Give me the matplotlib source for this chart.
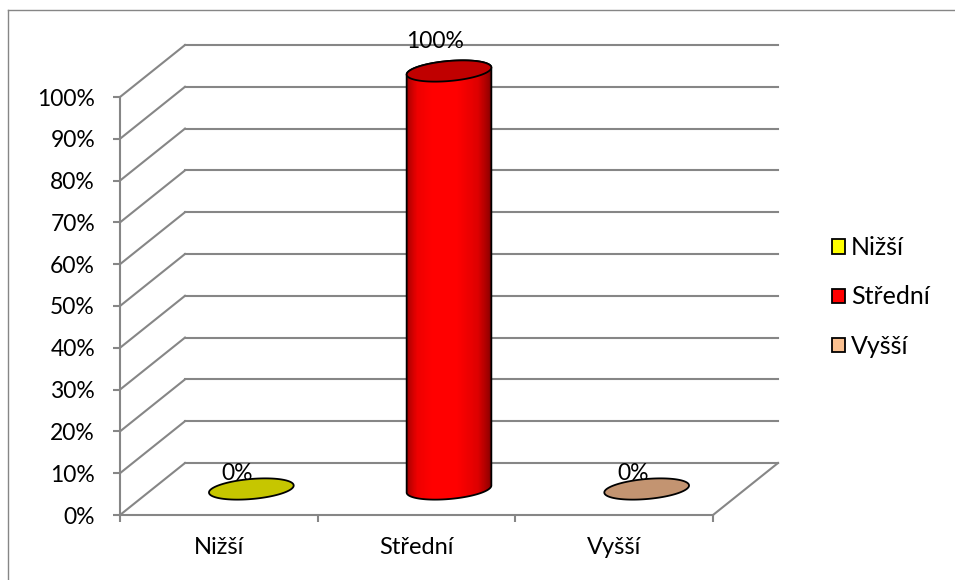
import numpy as np
import matplotlib
matplotlib.use('Agg')
import matplotlib.pyplot as plt
from matplotlib.patches import Patch, Polygon
from matplotlib.collections import PolyCollection
from matplotlib.lines import Line2D
from matplotlib.transforms import ScaledTranslation, IdentityTransform
from matplotlib.colors import LinearSegmentedColormap

# ---- data ----
categories = ['Nižší', 'Střední', 'Vyšší']
values = [0, 100, 0]
value_labels = ['0%', '100%', '0%']
y_ticks = list(range(0, 101, 10))
y_tick_labels = [f'{v}%' for v in y_ticks]
legend_colors = ['#ffff00', '#ff0000', '#fac090']
flat_colors = ['#c6c600', '#ff0000', '#c39471']

# ---- style ----
W, H, DPI = 955, 580, 100
GRID = '#868686'
DEPTH = (65, 52)            # px, oblique depth of the 3D box
ELL_W, ELL_H, ELL_ANG = 85, 20, 5
LABEL_DY = [16, 29, 16]     # px above bar top
LABEL_DX = -14
FS = 16.5
FS_CAT = 17
FS_LEG = 18

plt.rcParams['font.family'] = ['Lato', 'DejaVu Sans']
fig = plt.figure(figsize=(W / DPI, H / DPI), dpi=DPI)

# front plane of the 3D box
ax = fig.add_axes([120 / W, (H - 515) / H, (713 - 120) / W, (515 - 97) / H])
ax.set_xlim(0, 3)
ax.set_ylim(0, 100)
ax.patch.set_visible(False)
for s in ['top', 'right']:
    ax.spines[s].set_visible(False)
for s in ['left', 'bottom']:
    ax.spines[s].set_color(GRID)
    ax.spines[s].set_linewidth(1.5)

ax.set_yticks(y_ticks)
ax.set_yticklabels(y_tick_labels)
ax.tick_params(axis='y', length=5, width=1.5, color=GRID, pad=13, labelsize=FS)
ax.set_xticks([0, 1, 2, 3])
ax.set_xticklabels([])
ax.set_xticks([0.5, 1.5, 2.5], minor=True)
ax.set_xticklabels(categories, minor=True)
ax.tick_params(axis='x', which='major', length=5, width=1.5, color=GRID)
ax.tick_params(axis='x', which='minor', length=0, pad=16, labelsize=FS_CAT)

dx_in, dy_in = DEPTH[0] / DPI, DEPTH[1] / DPI
back = ax.transData + ScaledTranslation(dx_in, dy_in, fig.dpi_scale_trans)
ident = IdentityTransform()

# side wall diagonals and back wall gridlines
for v in y_ticks:
    p = ax.transData.transform((0, v))
    ax.add_line(Line2D([p[0], p[0] + DEPTH[0]], [p[1], p[1] + DEPTH[1]],
                       transform=ident, color=GRID, lw=1.5, clip_on=False, zorder=1))
    ax.plot([0, 3], [v, v], transform=back, color=GRID, lw=1.5, clip_on=False, zorder=1)
p = ax.transData.transform((3, 0))
ax.add_line(Line2D([p[0], p[0] + DEPTH[0]], [p[1], p[1] + DEPTH[1]],
                   transform=ident, color=GRID, lw=1.5, clip_on=False, zorder=1))


def ellipse_pts(cx, cy, t):
    a, b = ELL_W / 2, ELL_H / 2
    th = np.deg2rad(ELL_ANG)
    x = cx + a * np.cos(t) * np.cos(th) - b * np.sin(t) * np.sin(th)
    y = cy + a * np.cos(t) * np.sin(th) + b * np.sin(t) * np.cos(th)
    return np.column_stack([x, y])


cyl_cmap = LinearSegmentedColormap.from_list(
    'cyl', [(0, '#a80000'), (0.12, '#ee0000'), (0.3, '#ff0000'),
            (0.6, '#ff0000'), (0.85, '#dd0000'), (1, '#8a0000')])

for i, (val, col) in enumerate(zip(values, flat_colors)):
    xc = i + 0.5
    bot = ax.transData.transform((xc, 0)) + np.array(DEPTH) / 2
    top = ax.transData.transform((xc, val)) + np.array(DEPTH) / 2
    if val == 0:
        e = Polygon(ellipse_pts(top[0], top[1], np.linspace(0, 2 * np.pi, 200)),
                    closed=True, transform=ident, facecolor=col, edgecolor='black',
                    lw=1.3, clip_on=False, zorder=3)
        ax.add_patch(e)
    else:
        lower = ellipse_pts(bot[0], bot[1], np.linspace(np.pi, 2 * np.pi, 100))
        upper = ellipse_pts(top[0], top[1], np.linspace(0, np.pi, 100))
        body_pts = np.vstack([lower, upper])
        body = Polygon(body_pts, closed=True, transform=ident, facecolor='none',
                       edgecolor='black', lw=1.3, clip_on=False, zorder=4)
        x0, x1 = body_pts[:, 0].min(), body_pts[:, 0].max()
        y0, y1 = body_pts[:, 1].min(), body_pts[:, 1].max()
        n = 90
        xs = np.linspace(x0, x1, n + 1)
        strips = [[(xs[k], y0), (xs[k + 1] + 0.6, y0), (xs[k + 1] + 0.6, y1), (xs[k], y1)]
                  for k in range(n)]
        pc = PolyCollection(strips, transform=ident,
                            facecolors=[cyl_cmap(k / (n - 1)) for k in range(n)],
                            edgecolors='none', zorder=3)
        ax.add_patch(body)
        ax.add_collection(pc)
        pc.set_clip_path(body)
        pc.set_clip_box(None)
        cap = Polygon(ellipse_pts(top[0], top[1], np.linspace(0, 2 * np.pi, 200)),
                      closed=True, transform=ident, facecolor='#c00000',
                      edgecolor='black', lw=1.3, clip_on=False, zorder=5)
        ax.add_patch(cap)
    ax.text(top[0] + LABEL_DX, top[1] + LABEL_DY[i], value_labels[i], transform=ident,
            ha='center', va='center', fontsize=FS, zorder=6)

# legend
handles = [Patch(facecolor=c, edgecolor='black', lw=1.3) for c in legend_colors]
fig.legend(handles, categories, loc='center left', bbox_to_anchor=(832 / W, 1 - 297 / H),
           frameon=False, handlelength=0.5, handleheight=0.5, handletextpad=0.25,
           labelspacing=1.05, fontsize=FS_LEG, borderpad=0, borderaxespad=0)

# chart area border (left and top visible)
fig.add_artist(Line2D([8 / W, 8 / W], [0, 1 - 10 / H], transform=fig.transFigure,
                      color=GRID, lw=1))
fig.add_artist(Line2D([8 / W, 1], [1 - 10 / H, 1 - 10 / H], transform=fig.transFigure,
                      color=GRID, lw=1))

fig.savefig('out.png', dpi=DPI)
